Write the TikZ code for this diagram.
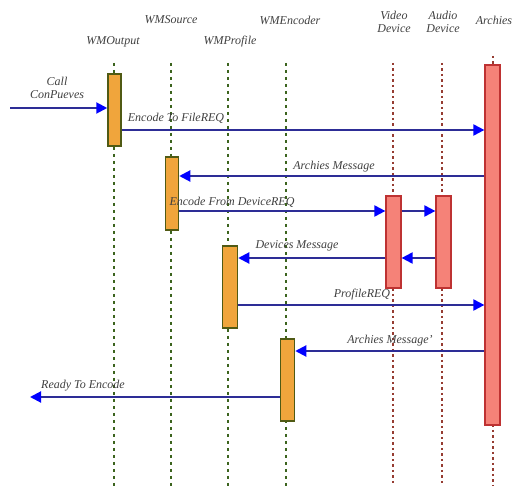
\documentclass[tikz,border=0pt]{standalone}
\usepackage{fontspec}
\setmainfont{Liberation Serif}
\usetikzlibrary{arrows.meta}
\definecolor{lifeG}{RGB}{60,100,30}
\definecolor{lifeR}{RGB}{150,60,50}
\definecolor{orangeF}{RGB}{240,165,60}
\definecolor{orangeD}{RGB}{80,90,20}
\definecolor{redF}{RGB}{245,130,120}
\definecolor{redD}{RGB}{190,50,50}
\definecolor{msgC}{RGB}{45,45,150}
\tikzset{
  lbl/.style={font=\itshape\fontsize{12}{13}\selectfont, text=black!75, inner sep=0pt, align=center},
  lifeg/.style={draw=lifeG, line width=2.8pt, dash pattern=on 3pt off 4pt},
  lifer/.style={draw=lifeR, line width=1.6pt, dash pattern=on 2.5pt off 3pt},
  actO/.style={draw=orangeD, fill=orangeF, line width=1.5pt},
  actR/.style={draw=redD, fill=redF, line width=1.2pt},
  msg/.style={draw=msgC, line width=2pt, -{Triangle[length=11pt,width=11pt,fill=blue,color=blue]}},
}
\begin{document}
\begin{tikzpicture}[x=1pt,y=-1pt]
\useasboundingbox (0,0) rectangle (515,486);
\fill[white] (0,0) rectangle (515,486);
% headers
\node[lbl] (hOut) at (113,42) {WMOutput};
\node[lbl] (hSrc) at (171,20) {WMSource};
\node[lbl] (hPro) at (230,42) {WMProfile};
\node[lbl] (hEnc) at (290,20) {WMEncoder};
\node[lbl] (hVid) at (394,22) {Video\\Device};
\node[lbl] (hAud) at (443,22) {Audio\\Device};
\node[lbl] (hArc) at (494,20) {Archies};
% lifelines
\draw[lifeg] (114,63) -- (114,486);
\draw[lifeg] (171,63) -- (171,486);
\draw[lifeg] (228,63) -- (228,486);
\draw[lifeg] (286,63) -- (286,486);
\draw[lifer] (393,63) -- (393,486);
\draw[lifer] (442,63) -- (442,486);
\draw[lifer] (493,56) -- (493,486);
% activations
\node[actO, minimum width=13pt, minimum height=72pt, inner sep=0pt] (aOut) at (114.5,110) {};
\node[actO, minimum width=13pt, minimum height=73pt, inner sep=0pt] (aSrc) at (172,193.5) {};
\node[actO, minimum width=15pt, minimum height=82pt, inner sep=0pt] (aPro) at (230,287) {};
\node[actO, minimum width=14pt, minimum height=82pt, inner sep=0pt] (aEnc) at (287.5,380) {};
\node[actR, minimum width=15pt, minimum height=92pt, inner sep=0pt] (aVid) at (393.5,242) {};
\node[actR, minimum width=15pt, minimum height=92pt, inner sep=0pt] (aAud) at (443.5,242) {};
\node[actR, minimum width=15pt, minimum height=360pt, inner sep=0pt] (aArc) at (492.5,245) {};
% messages
\coordinate (cStart) at (10,108);
\coordinate (cEnd) at (30,397);
\draw[msg] (cStart) -- (aOut.west |- cStart);
\node[lbl] (lCall) at (57,88) {Call\\ConPueves};
\draw[msg] (aOut.east |- 0,130) -- (aArc.west |- 0,130);
\node[lbl] (l1) at (176,118) {Encode To FileREQ};
\draw[msg] (aArc.west |- 0,176) -- (aSrc.east |- 0,176);
\node[lbl] (l2) at (334,167) {Archies Message};
\draw[msg] (aSrc.east |- 0,211) -- (aVid.west |- 0,211);
\draw[msg] (aVid.east |- 0,211) -- (aAud.west |- 0,211);
\node[lbl] (l3) at (232,202) {Encode From DeviceREQ};
\draw[msg] (aAud.west |- 0,258) -- (aVid.east |- 0,258);
\draw[msg] (aVid.west |- 0,258) -- (aPro.east |- 0,258);
\node[lbl] (l4) at (297,246) {Devices Message};
\draw[msg] (aPro.east |- 0,305) -- (aArc.west |- 0,305);
\node[lbl] (l5) at (362,295) {ProfileREQ};
\draw[msg] (aArc.west |- 0,351) -- (aEnc.east |- 0,351);
\node[lbl] (l6) at (390,341) {Archies Message'};
\draw[msg] (aEnc.west |- 0,397) -- (cEnd);
\node[lbl] (l7) at (83,386) {Ready To Encode};
\end{tikzpicture}
\end{document}
